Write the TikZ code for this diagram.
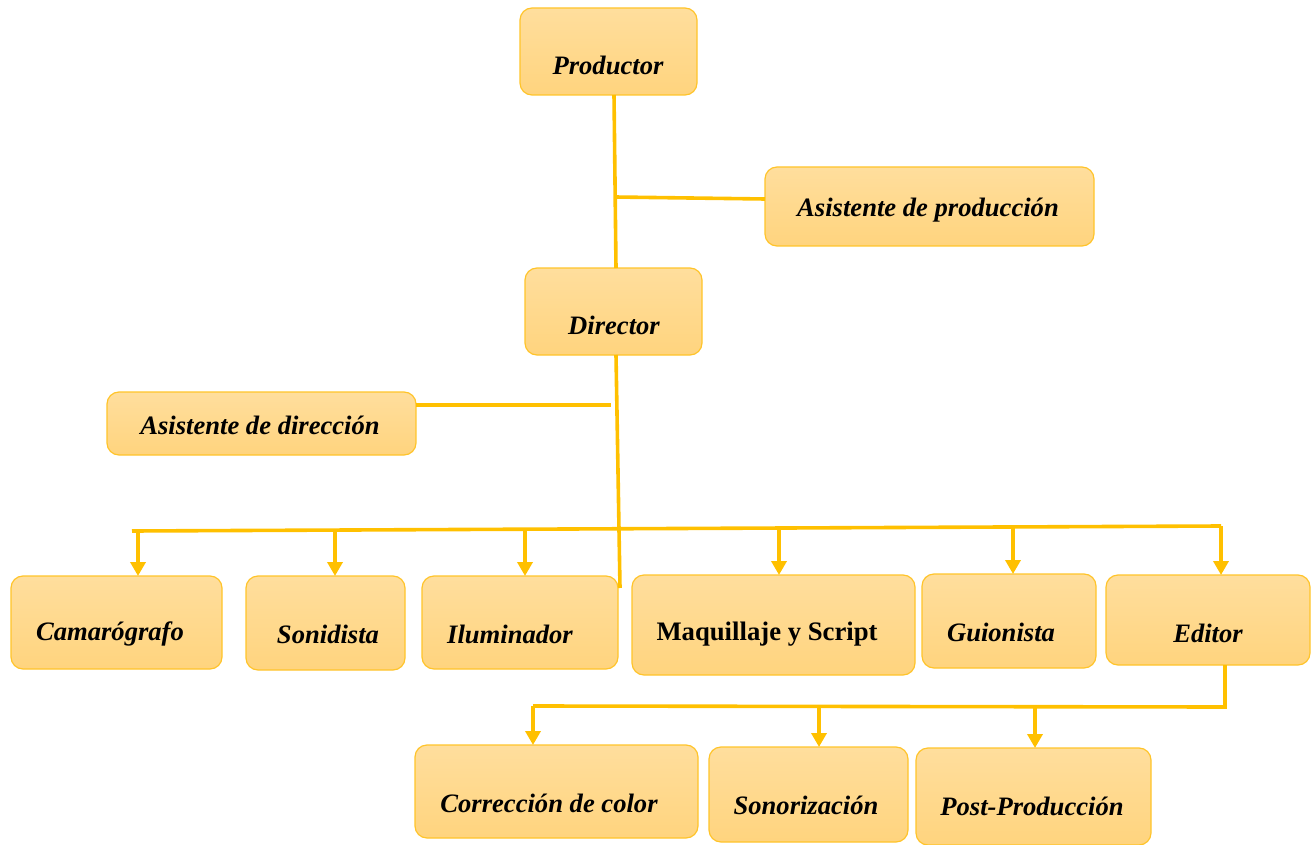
\documentclass[tikz,border=0pt]{standalone}
\usepackage{fontspec}
\setmainfont{Liberation Serif}
\usetikzlibrary{arrows.meta}
\definecolor{lin}{HTML}{FFC000}
\definecolor{bord}{HTML}{FFC42A}
\definecolor{topc}{HTML}{FFDE9D}
\definecolor{botc}{HTML}{FFD47E}
\begin{document}
\begin{tikzpicture}[x=1pt,y=-1pt,
  box/.style={draw=bord,line width=1.2pt,rounded corners=12pt,top color=topc,bottom color=botc,shading angle=0},
  lbl/.style={font=\fontsize{26.6}{30}\selectfont\bfseries\itshape,text=black,inner sep=0pt},
  lblu/.style={font=\fontsize{26.7}{30}\selectfont\bfseries,text=black,inner sep=0pt},
  conn/.style={draw=lin,line width=3.6pt},
  arr/.style={draw=lin,line width=3.6pt,-{Triangle[width=15pt,length=14pt]}}]
\useasboundingbox (0,0) rectangle (1312,845);
\newcommand\bx[5]{\path[box] (#2,#3) rectangle (#4,#5) node[pos=0.5,inner sep=0pt,minimum size=0pt] (#1) {};
  \coordinate (#1n) at ({(#2+#4)/2},#3);\coordinate (#1s) at ({(#2+#4)/2},#5);\coordinate (#1w) at (#2,{(#3+#5)/2});\coordinate (#1e) at (#4,{(#3+#5)/2});}
\bx{prod}{520}{8}{697}{95}
\bx{ap}{765}{167}{1094}{246}
\bx{dir}{525}{268}{702}{355}
\bx{ad}{107}{392}{416}{455}
\bx{cam}{11}{576}{222}{669}
\bx{son}{246}{576}{405}{670}
\bx{ilu}{422}{576}{618}{669}
\bx{maq}{632}{575}{915}{675}
\bx{gui}{922}{574}{1096}{668}
\bx{edi}{1106}{575}{1310}{665}
\bx{cor}{415}{745}{698}{838}
\bx{sonz}{709}{747}{908}{842}
\bx{post}{916}{748}{1151}{845}
\node[lbl] (tprod) at (608,65) {Productor};
\node[lbl] (tap) at (928,210) {Asistente de producción};
\node[lbl] (tdir) at (614,325) {Director};
\node[lbl] (tad) at (260,425) {Asistente de dirección};
\node[lbl] (tcam) at (110,634) {Camarógrafo};
\node[lbl] (tson) at (328,634) {Sonidista};
\node[lbl] (tilu) at (510,634) {Iluminador};
\node[lblu] (tmaq) at (767,634) {Maquillaje y Script};
\node[lbl] (tgui) at (1001,632) {Guionista};
\node[lbl] (tedi) at (1208,633) {Editor};
\node[lbl] (tcor) at (549,803) {Corrección de color};
\node[lbl] (tsonz) at (806,805) {Sonorización};
\node[lbl] (tpost) at (1032,806) {Post-Producción};
% connectors
\coordinate (p1) at (614,95);
\coordinate (p2) at (616,268);
\draw[conn] (p1) -- (p2);
\coordinate (j1) at (615,197);
\draw[conn] (j1) -- (765,199);
\coordinate (d1) at (616,355);
\coordinate (d2) at (620,588);
\draw[conn] (d1) -- (d2);
\coordinate (a1) at (611,405);
\draw[conn] (416,405) -- (a1);
\coordinate (bl) at (132,531);
\coordinate (br) at (1221,526);
\draw[conn] (bl) -- (br);
\foreach \x/\y/\n in {138/531/cam,335/530/son,525/529/ilu,779/528/maq,1013/527/gui,1221/526/edi}{
  \coordinate (t\n) at (\x,\y);
  \draw[arr] (t\n) -- (t\n |- \n n);
}
\coordinate (e1) at (1225,665);
\coordinate (e2) at (1225,707);
\coordinate (e3) at (533,706);
\draw[conn] (e1) -- (e2) -- (e3);
\foreach \x/\n in {533/cor,819/sonz,1035/post}{
  \coordinate (u\n) at (\x,706);
  \draw[arr] (u\n) -- (u\n |- \n n);
}
\end{tikzpicture}
\end{document}
